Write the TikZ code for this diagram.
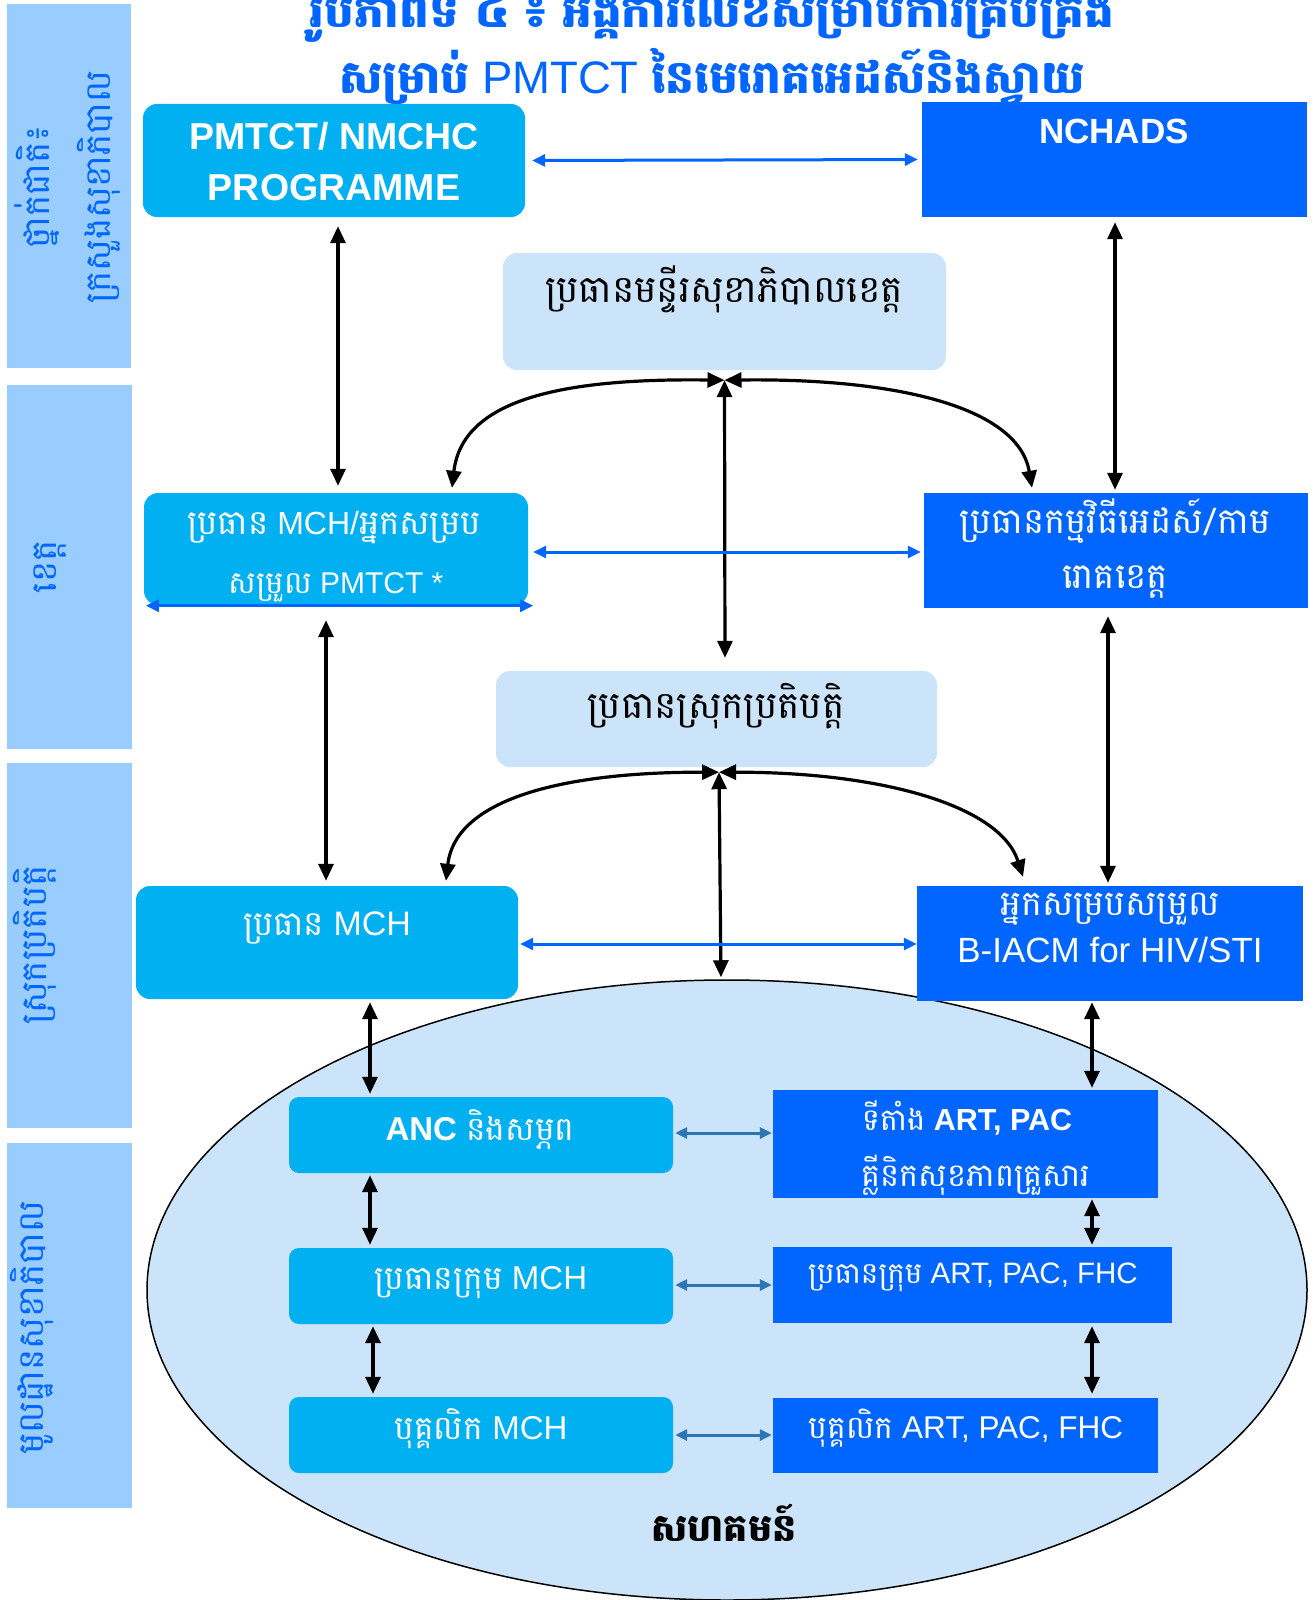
\documentclass[tikz,border=0pt]{standalone}
\usepackage{fontspec}
\setmainfont{Liberation Sans}
\newfontfamily\khf[Script=Khmer]{Battambang}
\usetikzlibrary{arrows.meta,shapes.geometric}
\newcommand{\kh}[1]{{\khf #1}}
\newcommand{\fs}[1]{\fontsize{#1}{#1}\selectfont}
\definecolor{cyanbox}{HTML}{00B0F0}
\definecolor{bluebox}{HTML}{0066FF}
\definecolor{lightbox}{HTML}{CCE4FA}
\definecolor{sidebar}{HTML}{99CCFF}
\definecolor{sideblue}{HTML}{0066FF}
\definecolor{arrowblue}{HTML}{0066FF}
\definecolor{arrowsteel}{HTML}{2E75B6}
\tikzset{
 cbox/.style={fill=cyanbox, rounded corners=14pt, inner sep=0pt},
 bbox/.style={fill=bluebox, inner sep=0pt},
 lbox/.style={fill=lightbox, rounded corners=14pt, inner sep=0pt},
 sbox/.style={fill=cyanbox, rounded corners=10pt, inner sep=0pt},
 side/.style={fill=sidebar, inner sep=0pt},
 wtext/.style={text=white, inner sep=0pt},
 ktext/.style={text=black, inner sep=0pt},
 stext/.style={text=sideblue, rotate=90, inner sep=0pt},
 blk/.style={draw=black, line width=3.2pt, {Triangle[length=17pt,width=15pt]}-{Triangle[length=17pt,width=15pt]}},
 blu/.style={draw=arrowblue, line width=3pt, {Triangle[length=13pt,width=12pt]}-{Triangle[length=13pt,width=12pt]}},
 sblu/.style={draw=arrowsteel, line width=3pt, {Triangle[length=12pt,width=11pt]}-{Triangle[length=12pt,width=11pt]}},
}
\begin{document}
\begin{tikzpicture}[x=1pt,y=-1pt]
\useasboundingbox (0,0) rectangle (1316,1600);
\fill[white] (0,0) rectangle (1316,1600);
% side bars
\node[side, minimum width=124, minimum height=364] (s1) at (69,186) {};
\node[side, minimum width=125, minimum height=364] (s2) at (69.5,567) {};
\node[side, minimum width=125, minimum height=365] (s3) at (69.5,945.5) {};
\node[side, minimum width=125, minimum height=365] (s4) at (69.5,1325.5) {};
\node[stext] (s1a) at (37,187) {\fs{35.5}\kh{ថ្នាក់ជាតិ៖}};
\node[stext] (s1b) at (99,187) {\fs{35.5}\kh{ក្រសួងសុខាភិបាល}};
\node[stext] (s2a) at (50,567) {\fs{35.5}\kh{ខេត្ត}};
\node[stext] (s3a) at (35,945) {\fs{35.5}\kh{ស្រុកប្រតិបត្តិ}};
\node[stext] (s4a) at (32,1328) {\fs{35.5}\kh{មូលដ្ឋានសុខាភិបាល}};
% title
\node[text=bluebox, inner sep=0pt] (ti1) at (712,12) {\fs{47}\bfseries\kh{រូបភាពទី ៤ ៖ អង្គការលេខសម្រាប់ការគ្រប់គ្រង}};
\node[text=bluebox, inner sep=0pt] (ti2) at (712,77) {\fs{45.5}\bfseries\kh{សម្រាប់} \mdseries PMTCT \bfseries\kh{នៃមេរោគអេដស៍និងស្វាយ}};
% community ellipse
\node[ellipse, draw=black, line width=1.5pt, fill=lightbox, minimum width=1160, minimum height=620, inner sep=0pt] (comm) at (727,1290) {};
\node[ktext] (commt) at (724,1523) {\fs{38}\bfseries\kh{សហគមន៍}};
% national
\node[cbox, minimum width=382, minimum height=113] (pm) at (334,160.5) {};
\node[wtext] (pm1) at (334,136) {\fs{37.5}\bfseries PMTCT/ NMCHC};
\node[wtext] (pm2) at (334,188) {\fs{37.5}\bfseries PROGRAMME};
\node[bbox, minimum width=385, minimum height=115] (nch) at (1114.5,159.5) {};
\node[wtext] (ncht) at (1114,131) {\fs{35}\bfseries NCHADS};
% province
\node[lbox, minimum width=443, minimum height=117] (pdh) at (724.5,311.5) {};
\node[ktext] (pdht) at (724,289) {\fs{37.5}\kh{ប្រធានមន្ទីរសុខាភិបាលខេត្ត}};
\node[cbox, minimum width=384, minimum height=112] (pmch) at (336,549) {};
\node[wtext] (pmch1) at (334,528) {\fs{32}\kh{\fs{34}ប្រធាន} MCH/\kh{\fs{34}អ្នកសម្រប}};
\node[wtext] (pmch2) at (336,587) {\fs{30}\kh{\fs{31}សម្រួល} PMTCT *};
\node[bbox, minimum width=384, minimum height=115] (pad) at (1116,550.5) {};
\node[wtext] (pad1) at (1115,521) {\fs{35.5}\kh{ប្រធានកម្មវិធីអេដស៍/កាម}};
\node[wtext] (pad2) at (1115,582) {\fs{35.5}\kh{រោគខេត្ត}};
% district
\node[lbox, minimum width=441, minimum height=96] (od) at (716.5,719) {};
\node[ktext] (odt) at (716,706) {\fs{37.5}\kh{ប្រធានស្រុកប្រតិបត្តិ}};
\node[cbox, minimum width=382, minimum height=113] (dmch) at (327,942.5) {};
\node[wtext] (dmcht) at (327,928) {\fs{34}\kh{ប្រធាន} MCH};
\node[bbox, minimum width=386, minimum height=115] (biacm) at (1110,943.5) {};
\node[wtext] (bi1) at (1110,909) {\fs{35}\kh{អ្នកសម្របសម្រួល}};
\node[wtext] (bi2) at (1110,950) {\fs{35}B-IACM for HIV/STI};
% health centre
\node[sbox, minimum width=384, minimum height=76] (anc) at (481,1135) {};
\node[wtext] (anct) at (480,1130) {\fs{33}\textbf{ANC} \kh{និងសម្ភព}};
\node[sbox, minimum width=384, minimum height=76] (tmch) at (481,1286) {};
\node[wtext] (tmcht) at (481,1283) {\fs{33}\kh{ប្រធានក្រុម} MCH};
\node[sbox, minimum width=384, minimum height=76] (smch) at (481,1435) {};
\node[wtext] (smcht) at (481,1429) {\fs{33}\kh{បុគ្គលិក} MCH};
\node[bbox, minimum width=385, minimum height=108] (art) at (965.5,1144) {};
\node[wtext] (art1) at (967,1118) {\fs{30.5}\kh{ទីតាំង} \textbf{ART, PAC}};
\node[wtext] (art2) at (976,1175) {\fs{32}\kh{គ្លីនិកសុខភាពគ្រួសារ}};
\node[bbox, minimum width=399, minimum height=76] (tart) at (972.5,1285) {};
\node[wtext] (tartt) at (973,1277) {\fs{29.5}\kh{ប្រធានក្រុម} ART, PAC, FHC};
\node[bbox, minimum width=385, minimum height=75] (sart) at (965.5,1435.5) {};
\node[wtext] (sartt) at (966,1428) {\fs{31.5}\kh{បុគ្គលិក} ART, PAC, FHC};
% connectors national/province
\draw[blu, shorten <=7pt, shorten >=4pt] (pm.east) -- (nch.west);
\draw[blk, shorten <=9pt, shorten >=7pt] ([xshift=4pt]pm.south) -- ([xshift=2pt]pmch.north);
\draw[blk, shorten <=5pt, shorten >=3pt] ([xshift=0.5pt]nch.south) -- ([xshift=-1pt]pad.north);
\coordinate (t1) at ([yshift=-10pt]pdh.south);
\draw[blk] (t1) .. controls (560,378) and (462,400) .. ([xshift=116pt,yshift=5pt]pmch.north);
\draw[blk] (t1) .. controls (890,378) and (1018,405) .. ([xshift=-84pt,yshift=5pt]pad.north);
\draw[blk, shorten >=13pt] (t1) -- ([xshift=8.5pt]od.north);
\draw[blu, shorten <=5pt, shorten >=3pt] ([yshift=-3pt]pmch.east) -- ([yshift=-1.5pt]pad.west);
\draw[blu] ([xshift=2pt,yshift=-0.5pt]pmch.south west) -- ([xshift=5pt,yshift=-0.5pt]pmch.south east);
% province/district
\draw[blk, shorten <=15pt, shorten >=5pt] ([xshift=-10pt]pmch.south) -- ([xshift=-1pt]dmch.north);
\draw[blk, shorten <=8pt, shorten >=3pt] ([xshift=-8pt]pad.south) -- ([xshift=-2pt]biacm.north);
\coordinate (t2) at ([xshift=2.5pt,yshift=-5pt]od.south);
\draw[blk] (t2) .. controls (560,772) and (455,800) .. ([xshift=119pt,yshift=5pt]dmch.north);
\draw[blk] (t2) .. controls (880,772) and (1000,805) .. ([xshift=-87pt,yshift=9pt]biacm.north);
\draw[blk, shorten >=2pt] (t2) -- ([xshift=-6pt]comm.north);
\draw[blu, shorten <=2pt] ([yshift=-1.5pt]dmch.east) -- ([yshift=-0.5pt]biacm.west);
% district/community
\draw[blk, shorten <=3pt, shorten >=3pt] ([xshift=43pt]dmch.south) -- ([xshift=-111pt]anc.north);
\draw[blk, shorten <=1pt, shorten >=2pt] ([xshift=-18pt]biacm.south) -- ([xshift=126.5pt]art.north);
\draw[blk, shorten <=2pt, shorten >=3pt] ([xshift=-111pt]anc.south) -- ([xshift=-111pt]tmch.north);
\draw[blk, shorten <=1pt, shorten >=2pt] ([xshift=126.5pt]art.south) -- ([xshift=119.5pt]tart.north);
\draw[blk, shorten <=2pt, shorten >=3pt] ([xshift=-108pt]tmch.south) -- ([xshift=-108pt]smch.north);
\draw[blk, shorten <=3pt, shorten >=4pt] ([xshift=119.5pt]tart.south) -- ([xshift=126.5pt]sart.north);
\draw[sblu, shorten <=2pt, shorten >=1pt] ([yshift=2pt]anc.east) -- ([yshift=11pt]art.west);
\draw[sblu, shorten <=2pt, shorten >=1pt] ([yshift=1pt]tmch.east) -- (tart.west);
\draw[sblu, shorten <=2pt, shorten >=1pt] (smch.east) -- ([yshift=0.5pt]sart.west);
\end{tikzpicture}
\end{document}
